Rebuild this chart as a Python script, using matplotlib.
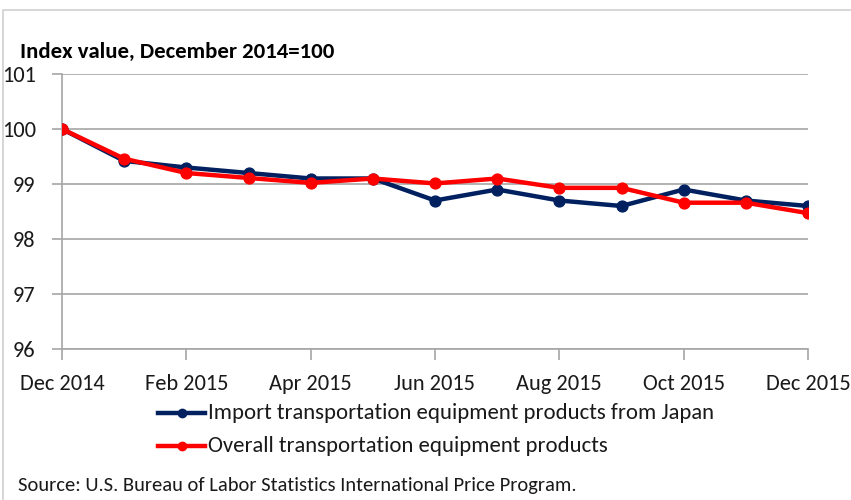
import matplotlib
matplotlib.use("Agg")
import matplotlib.pyplot as plt
from matplotlib import font_manager
from matplotlib.lines import Line2D

months = ["Dec 2014", "Jan 2015", "Feb 2015", "Mar 2015", "Apr 2015", "May 2015", "Jun 2015",
          "Jul 2015", "Aug 2015", "Sep 2015", "Oct 2015", "Nov 2015", "Dec 2015"]
japan = [100.0, 99.42, 99.3, 99.2, 99.1, 99.1, 98.7, 98.9, 98.7, 98.6, 98.9, 98.7, 98.6]
overall = [100.0, 99.46, 99.2, 99.11, 99.02, 99.1, 99.01, 99.1, 98.93, 98.93, 98.66, 98.66, 98.47]
yticks = [96, 97, 98, 99, 100, 101]
title = "Index value, December 2014=100"
legend_labels = ["Import transportation equipment products from Japan",
                 "Overall transportation equipment products"]
source = "Source: U.S. Bureau of Labor Statistics International Price Program."

avail = {f.name for f in font_manager.fontManager.ttflist}
fam = next((f for f in ["Carlito", "Liberation Sans Narrow", "Lato", "DejaVu Sans"] if f in avail))
plt.rcParams["font.family"] = fam

W, H = 851, 500
fig = plt.figure(figsize=(W / 100, H / 100), dpi=100)
ax = fig.add_axes([62 / W, 1 - 349 / H, (808 - 62) / W, (349 - 74) / H])

x = list(range(len(months)))
navy = "#002060"
red = "#FF0000"
ax.plot(x, japan, color=navy, lw=3.2, marker="o", ms=7.8, zorder=3)
ax.plot(x, overall, color=red, lw=3.2, marker="o", ms=7.8, zorder=4)

ax.set_xlim(0, 12)
ax.set_ylim(96, 101)
ax.set_yticks(yticks)
ax.set_xticks(x[::2])
ax.set_xticklabels(months[::2])
ax.yaxis.grid(True, color="#A6A6A6", lw=1.2)
ax.set_axisbelow(True)
for s in ["top", "right"]:
    ax.spines[s].set_visible(False)
for s in ["left", "bottom"]:
    ax.spines[s].set_color("#A6A6A6")
    ax.spines[s].set_linewidth(1.2)
ax.tick_params(axis="y", length=7, color="#A6A6A6", width=1.2, pad=12)
ax.tick_params(axis="x", length=8, color="#A6A6A6", width=1.2, pad=10)

renderer = fig.canvas.get_renderer()

def fit(t, target_w):
    bb = t.get_window_extent(renderer)
    t.set_fontsize(t.get_fontsize() * target_w / bb.width)

for lab in ax.get_xticklabels() + ax.get_yticklabels():
    lab.set_fontsize(16)
fig.canvas.draw()
lab0 = ax.get_xticklabels()[0]
bb = lab0.get_window_extent(renderer)
fs = 16 * 85 / bb.width
for lab in ax.get_xticklabels() + ax.get_yticklabels():
    lab.set_fontsize(fs)
    lab.set_color("#1a1a1a")

t = fig.text(20 / W, 1 - 52 / H, title, fontsize=14, fontweight="bold", va="center", ha="left")
fit(t, 315)

s = fig.text(18 / W, 1 - 485 / H, source, fontsize=14, va="center", ha="left", color="#1a1a1a")
fit(s, 562)

handles = [Line2D([], [], color=navy, lw=3.2, marker="o", ms=6),
           Line2D([], [], color=red, lw=3.2, marker="o", ms=6)]
leg_texts = []
for i, (h, lab) in enumerate(zip(handles, legend_labels)):
    yy = 1 - (413 + 33 * i) / H
    fig.add_artist(Line2D([158 / W, 205 / W], [yy, yy], color=h.get_color(), lw=3.2,
                          transform=fig.transFigure))
    fig.add_artist(Line2D([181.5 / W], [yy], color=h.get_color(), marker="o", ms=6,
                          transform=fig.transFigure))
    tt = fig.text(208 / W, yy, lab, fontsize=14, va="center", ha="left", color="#1a1a1a")
    leg_texts.append(tt)
fit(leg_texts[0], 509)
leg_texts[1].set_fontsize(leg_texts[0].get_fontsize())

# outer frame
fig.add_artist(plt.Rectangle((3 / W, -0.1), 2, 1 - 10 / H + 0.1, fill=False,
                             edgecolor="#D0D0D0", lw=1.2, transform=fig.transFigure))

fig.savefig("out.png", dpi=100)
